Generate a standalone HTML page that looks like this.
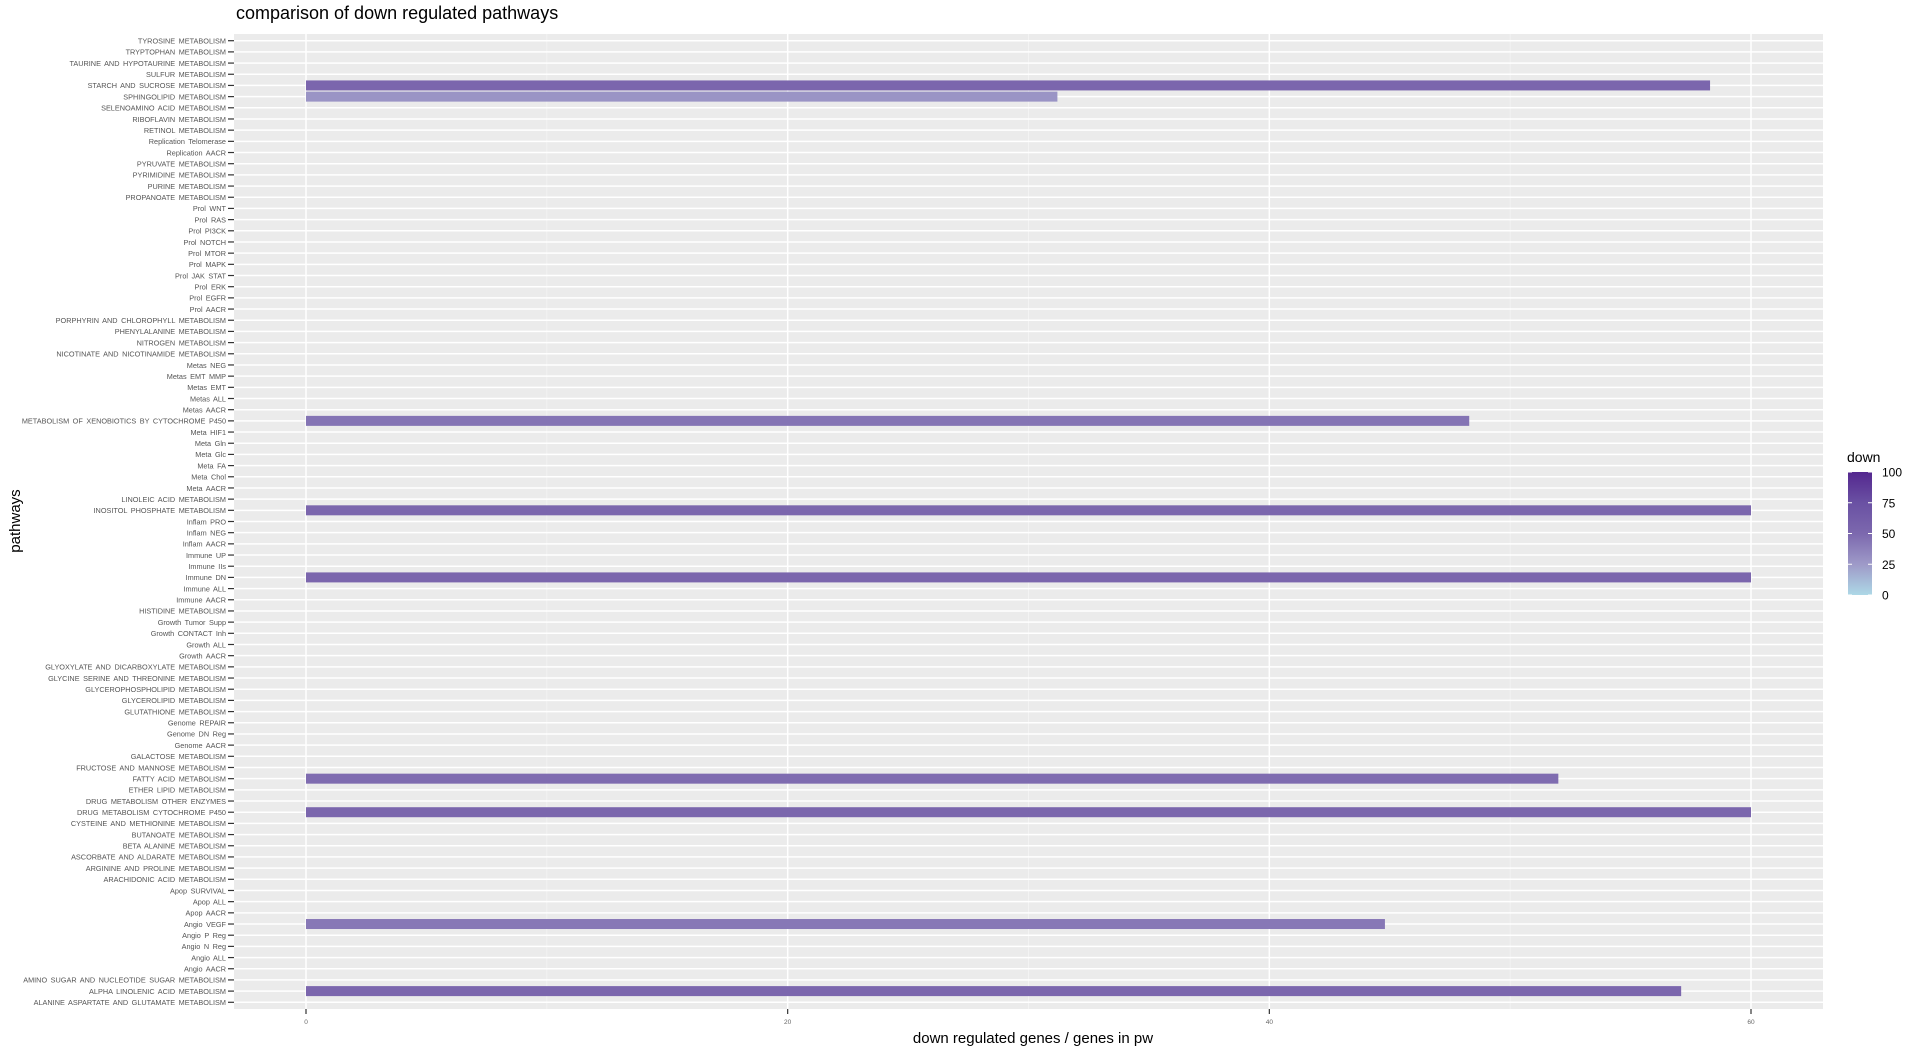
<!DOCTYPE html>
<html><head><meta charset="utf-8"><style>
html,body{margin:0;padding:0;background:#fff;}
svg{display:block;font-family:"Liberation Sans",Arial,sans-serif;}
</style></head><body>
<svg id="chart" width="1918" height="1053" viewBox="0 0 1918 1053"></svg>
<script>
const categories = ["ALANINE ASPARTATE AND GLUTAMATE METABOLISM","ALPHA LINOLENIC ACID METABOLISM","AMINO SUGAR AND NUCLEOTIDE SUGAR METABOLISM","Angio AACR","Angio ALL","Angio N Reg","Angio P Reg","Angio VEGF","Apop AACR","Apop ALL","Apop SURVIVAL","ARACHIDONIC ACID METABOLISM","ARGININE AND PROLINE METABOLISM","ASCORBATE AND ALDARATE METABOLISM","BETA ALANINE METABOLISM","BUTANOATE METABOLISM","CYSTEINE AND METHIONINE METABOLISM","DRUG METABOLISM CYTOCHROME P450","DRUG METABOLISM OTHER ENZYMES","ETHER LIPID METABOLISM","FATTY ACID METABOLISM","FRUCTOSE AND MANNOSE METABOLISM","GALACTOSE METABOLISM","Genome AACR","Genome DN Reg","Genome REPAIR","GLUTATHIONE METABOLISM","GLYCEROLIPID METABOLISM","GLYCEROPHOSPHOLIPID METABOLISM","GLYCINE SERINE AND THREONINE METABOLISM","GLYOXYLATE AND DICARBOXYLATE METABOLISM","Growth AACR","Growth ALL","Growth CONTACT Inh","Growth Tumor Supp","HISTIDINE METABOLISM","Immune AACR","Immune ALL","Immune DN","Immune IIs","Immune UP","Inflam AACR","Inflam NEG","Inflam PRO","INOSITOL PHOSPHATE METABOLISM","LINOLEIC ACID METABOLISM","Meta AACR","Meta Chol","Meta FA","Meta Glc","Meta Gln","Meta HIF1","METABOLISM OF XENOBIOTICS BY CYTOCHROME P450","Metas AACR","Metas ALL","Metas EMT","Metas EMT MMP","Metas NEG","NICOTINATE AND NICOTINAMIDE METABOLISM","NITROGEN METABOLISM","PHENYLALANINE METABOLISM","PORPHYRIN AND CHLOROPHYLL METABOLISM","Prol AACR","Prol EGFR","Prol ERK","Prol JAK STAT","Prol MAPK","Prol MTOR","Prol NOTCH","Prol PI3CK","Prol RAS","Prol WNT","PROPANOATE METABOLISM","PURINE METABOLISM","PYRIMIDINE METABOLISM","PYRUVATE METABOLISM","Replication AACR","Replication Telomerase","RETINOL METABOLISM","RIBOFLAVIN METABOLISM","SELENOAMINO ACID METABOLISM","SPHINGOLIPID METABOLISM","STARCH AND SUCROSE METABOLISM","SULFUR METABOLISM","TAURINE AND HYPOTAURINE METABOLISM","TRYPTOPHAN METABOLISM","TYROSINE METABOLISM"];
const barCategories = ["ALPHA LINOLENIC ACID METABOLISM","Angio VEGF","DRUG METABOLISM CYTOCHROME P450","FATTY ACID METABOLISM","Immune DN","INOSITOL PHOSPHATE METABOLISM","METABOLISM OF XENOBIOTICS BY CYTOCHROME P450","SPHINGOLIPID METABOLISM","STARCH AND SUCROSE METABOLISM"];
const barValues = [57.1, 44.8, 60, 52.0, 60, 60, 48.3, 31.2, 58.3];
const downValues = [52, 42, 52, 48, 52, 52, 44, 28, 52];
const xTicks = [0, 20, 40, 60];
const xMinor = [10, 30, 50];
const legendTicks = [0, 25, 50, 75, 100];

const NS = "http://www.w3.org/2000/svg";
const svg = document.getElementById('chart');
function mk(tag, attrs, parent){const e=document.createElementNS(NS,tag);for(const k in attrs)e.setAttribute(k,attrs[k]);(parent||svg).appendChild(e);return e;}

const P = {l:234, r:1823, t:34, b:1009};
const x = v => 306 + (v - 0) * (1751 - 306) / 60;
const step = (P.b - P.t) / (categories.length - 1 + 1.2);
const y = i => P.b - 0.6 * step - i * step;

function colorFor(v){
  const stops=[[0,[173,216,230]],[25,[158,154,200]],[50,[124,104,174]],[75,[106,81,163]],[100,[84,39,143]]];
  for(let i=0;i<stops.length-1;i++){const [a,ca]=stops[i],[b,cb]=stops[i+1];
    if(v<=b){const t=(v-a)/(b-a);return 'rgb('+ca.map((c,j)=>Math.round(c+(cb[j]-c)*t)).join(',')+')';}}
  return 'rgb(84,39,143)';
}

let panel = mk('rect',{x:P.l,y:P.t,width:P.r-P.l,height:P.b-P.t,fill:'#ebebeb'});



xMinor.forEach(v=>{const l=mk('line',{x1:x(v),x2:x(v),y1:P.t,y2:P.b,stroke:'#f5f5f5','stroke-width':0.8});
  
  });
xTicks.forEach(v=>{const l=mk('line',{x1:x(v),x2:x(v),y1:P.t,y2:P.b,stroke:'#fff','stroke-width':1.5});
  
  });
categories.forEach((c,i)=>{
  const l=mk('line',{x1:P.l,x2:P.r,y1:y(i),y2:y(i),stroke:'#fff','stroke-width':1.5});
  
  
  const tk=mk('line',{x1:P.l-6,x2:P.l,y1:y(i),y2:y(i),stroke:'#333','stroke-width':1.2});
  
  
  const t=mk('text',{x:P.l-8,y:y(i)+2.8,'text-anchor':'end','font-size':7.3,fill:'#555','word-spacing':1.5});
  t.textContent=c;
  
  
});
barCategories.forEach((c,k)=>{
  const i=categories.indexOf(c);
  const b=mk('rect',{x:x(0),y:y(i)-5,width:x(barValues[k])-x(0),height:10,fill:colorFor(downValues[k])});
  
  
});
xTicks.forEach(v=>{
  const tk=mk('line',{x1:x(v),x2:x(v),y1:P.b,y2:P.b+5,stroke:'#333','stroke-width':1.2});
  
  
  const t=mk('text',{x:x(v),y:P.b+15,'text-anchor':'middle','font-size':6.5,fill:'#666'});
  t.textContent=v;
  
  
});
let tt=mk('text',{x:236,y:19,'font-size':18,fill:'#000'});tt.textContent='comparison of down regulated pathways';


let xt=mk('text',{x:1033,y:1043,'text-anchor':'middle','font-size':15,fill:'#000'});xt.textContent='down regulated genes / genes in pw';


let yt=mk('text',{x:0,y:0,'text-anchor':'middle','font-size':15,fill:'#000',transform:'translate(20,521) rotate(-90)'});yt.textContent='pathways';



// legend
const defs=mk('defs',{});
const g=mk('linearGradient',{id:'lg',x1:0,y1:1,x2:0,y2:0},defs);
legendTicks.forEach(v=>mk('stop',{offset:v/100,'stop-color':colorFor(v)},g));
const L={x:1848,w:24,t:472,b:595};
let lt=mk('text',{x:1847,y:462,'font-size':14,fill:'#000'});lt.textContent='down';


let bar=mk('rect',{x:L.x,y:L.t,width:L.w,height:L.b-L.t,fill:'url(#lg)'});


const ly=v=>L.b-(v/100)*(L.b-L.t);
legendTicks.forEach(v=>{
  mk('line',{x1:L.x,x2:L.x+4,y1:ly(v),y2:ly(v),stroke:'#fff','stroke-width':1});
  mk('line',{x1:L.x+L.w-4,x2:L.x+L.w,y1:ly(v),y2:ly(v),stroke:'#fff','stroke-width':1});
  const t=mk('text',{x:L.x+L.w+10,y:ly(v)+4.5,'font-size':12,fill:'#000'});
  t.textContent=v;
  
  
});
</script>
</body></html>
